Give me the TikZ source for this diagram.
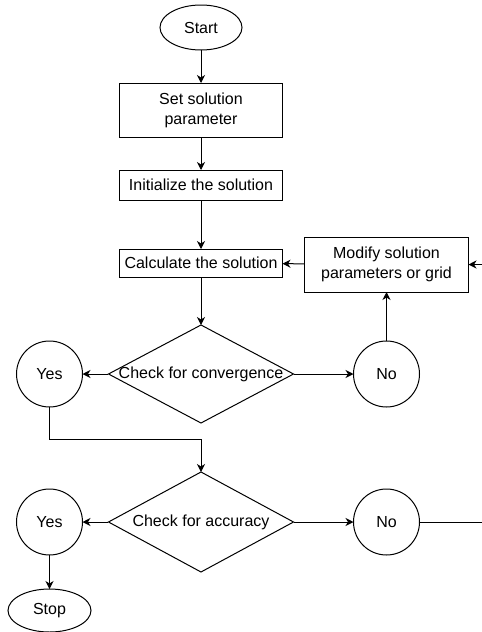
\documentclass[tikz,border=0pt]{standalone}
\usepackage{fontspec}
\setmainfont{Liberation Sans}
\usepackage{tikz}
\usetikzlibrary{shapes,arrows.meta,positioning}

\begin{document}
\begin{tikzpicture}[
    font=\fontsize{16pt}{20pt}\selectfont,
    line width=1pt,
    every node/.style={outer sep=0pt},
    stepbox/.style={rectangle, draw, minimum width=163pt, minimum height=30pt, inner sep=3pt, align=center},
    term/.style={ellipse, draw, minimum width=82pt, minimum height=45pt, inner sep=0pt},
    decision/.style={diamond, draw, minimum width=185pt, minimum height=98pt, inner sep=0pt},
    answer/.style={circle, draw, minimum size=66pt, inner sep=0pt},
    arrow/.style={->, >={Stealth[length=8pt,width=8pt,inset=2.5pt]}}
]

% fixed frame
\useasboundingbox (0pt,0pt) rectangle (482pt,-632pt);

% Main column
\node[term] (start) at (201pt,-27.5pt) {Start};
\node[stepbox, minimum height=54pt, below=33pt of start] (setpar) {Set solution\\parameter};
\node[stepbox, below=33pt of setpar] (init) {Initialize the solution};
\node[stepbox, minimum height=28pt, below=49pt of init] (calc) {Calculate the solution};
\node[decision, below=48pt of calc] (conv) {\makebox[0pt]{Check for convergence}};
\node[decision, minimum height=100pt, below=49pt of conv] (acc) {\makebox[0pt]{Check for accuracy}};

% Answers
\node[answer, left=26pt of conv] (yes1) {Yes};
\node[answer, right=60pt of conv] (no1) {No};
\node[answer, left=26pt of acc] (yes2) {Yes};
\node[answer, right=60pt of acc] (no2) {No};
\node[term, minimum width=83pt, minimum height=43pt, below=34pt of yes2] (stop) {Stop};

% Loop back
\node[stepbox, minimum width=164pt, minimum height=55pt, above=49pt of no1] (modify) {Modify solution\\parameters or grid};
\coordinate[right=15pt of modify] (feedin);
\coordinate (feedout) at (482pt,0 |- no2);

% Arrows
\draw[arrow] (start) -- (setpar);
\draw[arrow] (setpar) -- (init);
\draw[arrow] (init) -- (calc);
\draw[arrow] (calc) -- (conv);
\draw[arrow] (conv) -- (yes1);
\draw[arrow] (conv) -- (no1);
\draw[arrow] (no1) -- (modify);
\draw[arrow] (modify) -- (calc);
\draw[arrow] (feedin) -- (modify);
\draw[arrow] (yes1.south) -- ++(0,-32pt) -| (acc.north);
\draw[arrow] (acc) -- (yes2);
\draw[arrow] (acc) -- (no2);
\draw[arrow] (yes2) -- (stop);
\draw (no2) -- (feedout);

\end{tikzpicture}
\end{document}
